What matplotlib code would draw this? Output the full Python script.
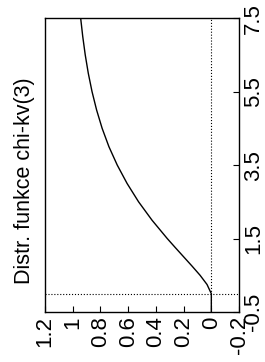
import numpy as np
import matplotlib
matplotlib.use("Agg")
import matplotlib.pyplot as plt

plt.rcParams['font.family'] = ['Liberation Sans', 'DejaVu Sans']

x_vals = [-0.5, 0.0, 0.25, 0.5, 0.75, 1.0, 1.25, 1.5, 2.0, 2.5, 3.0,
          3.5, 4.0, 4.5, 5.0, 5.5, 6.0, 6.5, 7.0, 7.5]
cdf_vals = [0.0, 0.0, 0.031, 0.081, 0.139, 0.199, 0.259, 0.318, 0.428,
            0.525, 0.608, 0.679, 0.739, 0.788, 0.828, 0.861, 0.888,
            0.910, 0.928, 0.943]

x_ticks = [-0.5, 1.5, 3.5, 5.5, 7.5]
x_ticklabels = ['-0.5', '1.5', '3.5', '5.5', '7.5']
y_ticks = [1.2, 1.0, 0.8, 0.6, 0.4, 0.2, 0.0, -0.2]
y_ticklabels = ['1.2', '1', '0.8', '0.6', '0.4', '0.2', '0', '-0.2']

title = 'Distr. funkce chi-kv(3)'

fig = plt.figure(figsize=(2.65, 3.62), dpi=100)
ax = fig.add_axes([0.17, 0.138, 0.732, 0.812])

# the chart is turned by 90 degrees: function value runs right-to-left,
# the argument runs bottom-to-top
ax.plot(cdf_vals, x_vals, color='black', lw=1.0)
ax.axvline(0, color='black', ls=':', lw=0.8)
ax.axhline(0, color='black', ls=':', lw=0.8)

ax.set_xlim(1.2, -0.2)
ax.set_ylim(-0.5, 7.5)

ax.set_xticks(y_ticks)
ax.set_xticklabels(y_ticklabels, rotation=90, fontsize=16)
ax.set_yticks(x_ticks)
ax.set_yticklabels(x_ticklabels, rotation=90, va='center', fontsize=16)

ax.yaxis.tick_right()
ax.tick_params(axis='both', direction='in', length=4, width=0.8, pad=3,
               colors='black')
ax.tick_params(axis='y', left=False, right=True)
ax.tick_params(axis='x', top=False, bottom=True)
for s in ax.spines.values():
    s.set_linewidth(1.0)

fig.text(0.094, 0.5, title, rotation=90, ha='center', va='center',
         fontsize=15.5)

fig.savefig('out.png', dpi=100)
